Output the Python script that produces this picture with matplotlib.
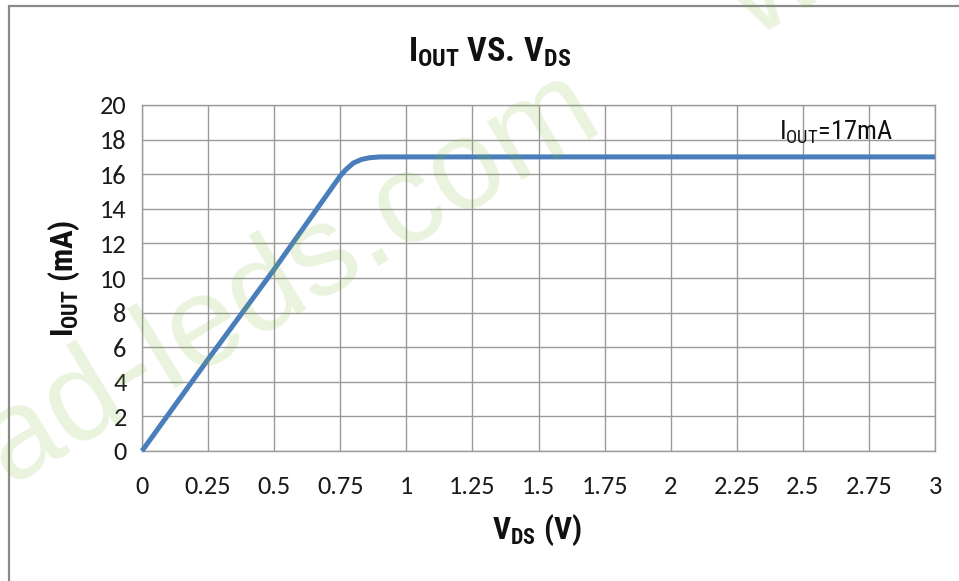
import matplotlib
matplotlib.use("Agg")
import matplotlib.pyplot as plt
from matplotlib.patches import Rectangle

# data
vds = [0, 0.25, 0.5, 0.75, 0.77, 0.8, 0.83, 0.86, 0.9, 1.0, 1.5, 2.0, 2.5, 3.0]
iout = [0, 5.3, 10.5, 15.9, 16.25, 16.65, 16.85, 16.95, 17.0, 17.0, 17.0, 17.0, 17.0, 17.0]
x_ticks = [0, 0.25, 0.5, 0.75, 1, 1.25, 1.5, 1.75, 2, 2.25, 2.5, 2.75, 3]
x_labels = ["0", "0.25", "0.5", "0.75", "1", "1.25", "1.5", "1.75", "2", "2.25", "2.5", "2.75", "3"]
y_ticks = list(range(0, 21, 2))

narrow = "Roboto Condensed"
plt.rcParams["mathtext.fontset"] = "custom"
plt.rcParams["mathtext.rm"] = narrow
plt.rcParams["mathtext.it"] = narrow
plt.rcParams["mathtext.bf"] = narrow + ":bold"

fig = plt.figure(figsize=(9.59, 5.81), dpi=100)
ax = fig.add_axes([142 / 959, 1 - 451 / 581, (935 - 142) / 959, (451 - 105) / 581])

grid_col = "#9a9a9a"
ax.plot(vds, iout, color="#4a7ebb", lw=3.6, solid_capstyle="butt", clip_on=False, zorder=3)

ax.set_xlim(0, 3)
ax.set_ylim(0, 20)
ax.set_xticks(x_ticks)
ax.set_xticklabels(x_labels)
ax.set_yticks(y_ticks)
ax.grid(True, color=grid_col, lw=1.0)
ax.set_axisbelow(True)
for s in ax.spines.values():
    s.set_color(grid_col)
    s.set_linewidth(1.0)
ax.tick_params(length=0, labelsize=19, labelcolor="#1a1a1a")
ax.tick_params(axis="y", pad=11)
ax.tick_params(axis="x", pad=17)
for lab in ax.get_xticklabels() + ax.get_yticklabels():
    lab.set_family("Carlito")

ax.text(2.41, 18.0, r"$\mathrm{I_{OUT}}$=17mA", family=narrow, fontsize=19,
        va="baseline", ha="left", color="#111111")

fig.text(490 / 959, 1 - 52 / 581, r"$\mathbf{I_{OUT}\;VS.\,V_{DS}}$", fontsize=24.5,
         ha="center", va="center", color="#111111")
fig.text(537 / 959, 1 - 530 / 581, r"$\mathbf{V_{DS}\ (V)}$", fontsize=22.5,
         ha="center", va="center", color="#111111")
fig.text(64 / 959, 1 - 278 / 581, r"$\mathbf{I_{OUT}\ (mA)}$", fontsize=22.5,
         ha="center", va="center", rotation=90, color="#111111")

# faint watermark over the chart
wm_col = (0.5, 0.72, 0.2)
fig.text(-124 / 959, 1 - 530 / 581, "lead-leds.com", fontsize=92, rotation=31,
         color=wm_col, alpha=0.17, ha="left", va="baseline",
         family="Liberation Sans", zorder=10)
fig.text(705 / 959, 1 - 36 / 581, "w", fontsize=92, rotation=31,
         color=wm_col, alpha=0.17, ha="left", va="baseline",
         family="Liberation Sans", zorder=10)

# outer chart frame (only left and top edges are inside the picture)
fig.patches.append(Rectangle((9 / 959, -0.05), 1.1, 1 - 6 / 581 + 0.05,
                             transform=fig.transFigure, fill=False,
                             edgecolor="#8a8a8a", lw=1.6))

fig.savefig("out.png", dpi=100)
